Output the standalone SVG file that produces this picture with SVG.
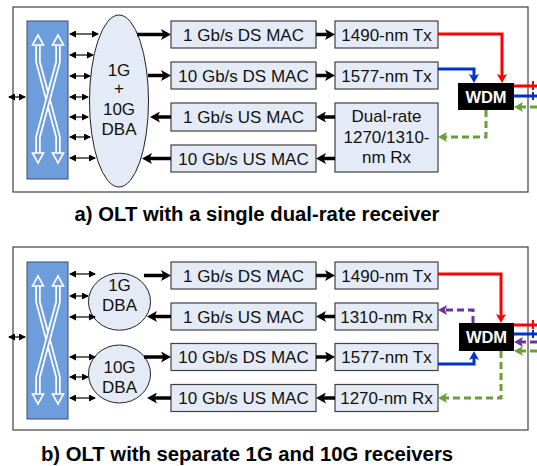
<svg xmlns="http://www.w3.org/2000/svg" width="537" height="466" viewBox="0 0 537 466">
<defs>
<style>
.frame{fill:#fff;stroke:#404040;stroke-width:1.2}
.sw{fill:#6E9DDC;stroke:#334e78;stroke-width:1}
.box{fill:#E4EBF6;stroke:#404040;stroke-width:1.2}
.dba{fill:#E4EBF6;stroke:#222;stroke-width:1}
.t{font-family:"Liberation Sans",Arial,sans-serif;font-size:17px;fill:#111;text-anchor:middle}
.wdmt{font-family:"Liberation Sans",Arial,sans-serif;font-size:16.5px;font-weight:bold;fill:#fff;text-anchor:middle}
.cap{font-family:"Liberation Sans",Arial,sans-serif;font-size:20.3px;font-weight:bold;fill:#000;text-anchor:middle}
.thick{fill:none;stroke:#000;stroke-width:3.5;marker-end:url(#ah)}
.small{fill:none;stroke:#000;stroke-width:1.2;marker-start:url(#sa);marker-end:url(#sa)}
.red{fill:none;stroke:#FF0000;stroke-width:3}
.blue{fill:none;stroke:#0033CC;stroke-width:3}
.green{fill:none;stroke:#6A9E3A;stroke-width:3;stroke-dasharray:7,4}
.purple{fill:none;stroke:#7030A0;stroke-width:3;stroke-dasharray:7,4}
.xo{fill:none;stroke:#fff;stroke-width:5.5}
.xi{fill:none;stroke:#6E9DDC;stroke-width:2}
.xh{fill:#6E9DDC;stroke:#fff;stroke-width:1.6}
</style>
<marker id="ah" viewBox="0 0 10 11" refX="3" refY="5.5" markerWidth="10" markerHeight="11" markerUnits="userSpaceOnUse" orient="auto"><path d="M0,0 L10,5.5 L0,11 L2.5,5.5 z" fill="#000"/></marker>
<marker id="sa" viewBox="0 0 7 7" refX="6" refY="3.5" markerWidth="7" markerHeight="7" markerUnits="userSpaceOnUse" orient="auto-start-reverse"><path d="M0,0 L7,3.5 L0,7 z" fill="#000"/></marker>
<marker id="ar" viewBox="0 0 9 10" refX="3" refY="5" markerWidth="9" markerHeight="10" markerUnits="userSpaceOnUse" orient="auto"><path d="M0,0 L9,5 L0,10 L2,5 z" fill="#FF0000"/></marker>
<marker id="ab" viewBox="0 0 9 10" refX="3" refY="5" markerWidth="9" markerHeight="10" markerUnits="userSpaceOnUse" orient="auto"><path d="M0,0 L9,5 L0,10 L2,5 z" fill="#0033CC"/></marker>
<marker id="ag" viewBox="0 0 9 10" refX="3" refY="5" markerWidth="9" markerHeight="10" markerUnits="userSpaceOnUse" orient="auto"><path d="M0,0 L9,5 L0,10 L2,5 z" fill="#6A9E3A"/></marker>
<marker id="ap" viewBox="0 0 9 10" refX="3" refY="5" markerWidth="9" markerHeight="10" markerUnits="userSpaceOnUse" orient="auto"><path d="M0,0 L9,5 L0,10 L2,5 z" fill="#7030A0"/></marker>
</defs>

<rect class="frame" x="13" y="7" width="515" height="185"/>
<rect class="frame" x="13" y="247" width="515" height="183"/>

<g id="a-switch">
<rect class="sw" x="27" y="21" width="41" height="158"/>
<path class="xo" d="M38,44 V62 L58,137 V155"/>
<path class="xi" d="M38,44 V62 L58,137 V155"/>
<polygon class="xh" points="38,35 43.5,45 32.5,45"/>
<polygon class="xh" points="58,163 63.5,153 52.5,153"/>
<path class="xo" d="M58,44 V62 L38,137 V155"/>
<path class="xi" d="M58,44 V62 L38,137 V155"/>
<polygon class="xh" points="58,35 63.5,45 52.5,45"/>
<polygon class="xh" points="38,163 43.5,153 32.5,153"/>
</g>
<g id="a-dba">
<ellipse class="dba" cx="119" cy="101" rx="29.5" ry="86"/>
<text class="t" x="119" y="76">1G</text>
<text class="t" x="119" y="94">+</text>
<text class="t" x="119" y="115">10G</text>
<text class="t" x="119" y="135">DBA</text>
</g>
<g id="a-mac1"><rect class="box" x="171" y="21" width="145" height="27"/><text class="t" x="243.5" y="40.5">1 Gb/s DS MAC</text></g>
<g id="a-mac2"><rect class="box" x="171" y="62" width="145" height="27"/><text class="t" x="243.5" y="81.5">10 Gb/s DS MAC</text></g>
<g id="a-mac3"><rect class="box" x="171" y="103" width="145" height="28"/><text class="t" x="243.5" y="123">1 Gb/s US MAC</text></g>
<g id="a-mac4"><rect class="box" x="171" y="145" width="145" height="27"/><text class="t" x="243.5" y="164.5">10 Gb/s US MAC</text></g>
<g id="a-tx1"><rect class="box" x="335" y="21" width="103" height="27"/><text class="t" x="386.5" y="40.5">1490-nm Tx</text></g>
<g id="a-tx2"><rect class="box" x="335" y="62" width="103" height="27"/><text class="t" x="386.5" y="81.5">1577-nm Tx</text></g>
<g id="a-rx"><rect class="box" x="335" y="103" width="103" height="69"/>
<text class="t" x="386.5" y="122">Dual-rate</text>
<text class="t" x="386.5" y="143">1270/1310-</text>
<text class="t" x="386.5" y="163">nm Rx</text></g>
<g id="a-wdm"><rect x="458" y="83" width="56" height="27" fill="#000"/><text class="wdmt" x="486" y="102.5">WDM</text></g>

<g id="b-switch">
<rect class="sw" x="27" y="262" width="41" height="157"/>
<path class="xo" d="M38,285 V302 L58,377 V395"/>
<path class="xi" d="M38,285 V302 L58,377 V395"/>
<polygon class="xh" points="38,276 43.5,286 32.5,286"/>
<polygon class="xh" points="58,404 63.5,394 52.5,394"/>
<path class="xo" d="M58,285 V302 L38,377 V395"/>
<path class="xi" d="M58,285 V302 L38,377 V395"/>
<polygon class="xh" points="58,276 63.5,286 52.5,286"/>
<polygon class="xh" points="38,404 43.5,394 32.5,394"/>
</g>
<g id="b-dba1"><ellipse class="dba" cx="119.5" cy="301.7" rx="31" ry="28.5"/><text class="t" x="119.5" y="291">1G</text><text class="t" x="119.5" y="311">DBA</text></g>
<g id="b-dba10"><ellipse class="dba" cx="119.5" cy="374" rx="31" ry="29"/><text class="t" x="119.5" y="373">10G</text><text class="t" x="119.5" y="393">DBA</text></g>
<g id="b-mac1"><rect class="box" x="171" y="262" width="145" height="27"/><text class="t" x="243.5" y="281.5">1 Gb/s DS MAC</text></g>
<g id="b-mac2"><rect class="box" x="171" y="303" width="145" height="27"/><text class="t" x="243.5" y="322.5">1 Gb/s US MAC</text></g>
<g id="b-mac3"><rect class="box" x="171" y="343.5" width="145" height="27"/><text class="t" x="243.5" y="363">10 Gb/s DS MAC</text></g>
<g id="b-mac4"><rect class="box" x="171" y="384.5" width="145" height="27"/><text class="t" x="243.5" y="404">10 Gb/s US MAC</text></g>
<g id="b-tx1"><rect class="box" x="335" y="262" width="103" height="27"/><text class="t" x="386.5" y="281.5">1490-nm Tx</text></g>
<g id="b-rx1"><rect class="box" x="335" y="303" width="103" height="27"/><text class="t" x="386.5" y="322.5">1310-nm Rx</text></g>
<g id="b-tx2"><rect class="box" x="335" y="343.5" width="103" height="27"/><text class="t" x="386.5" y="363">1577-nm Tx</text></g>
<g id="b-rx2"><rect class="box" x="335" y="384.5" width="103" height="27"/><text class="t" x="386.5" y="404">1270-nm Rx</text></g>
<g id="b-wdm"><rect x="459" y="323" width="55" height="28" fill="#000"/><text class="wdmt" x="486.5" y="343">WDM</text></g>

<g id="connectors">
<path class="small" d="M9,97 H25"/>
<path class="small" d="M70,34 H98"/>
<path class="small" d="M70,55 H93"/>
<path class="small" d="M70,76 H90"/>
<path class="small" d="M70,97 H88"/>
<path class="small" d="M70,117 H88"/>
<path class="small" d="M70,137 H90"/>
<path class="small" d="M70,158 H95"/>
<path class="thick" d="M137,34.5 H164"/>
<path class="thick" d="M148,75.5 H164"/>
<path class="thick" d="M171,117 H157"/>
<path class="thick" d="M171,158.5 H149"/>
<path class="thick" d="M316,34.5 H328"/>
<path class="thick" d="M316,75.5 H328"/>
<path class="thick" d="M335,117 H323"/>
<path class="thick" d="M335,158.5 H323"/>
<path class="red" d="M438,34 H502 V77" marker-end="url(#ar)"/>
<path class="blue" d="M438,69 H474 V77" marker-end="url(#ab)"/>
<path class="red" d="M514,86 H537"/>
<path class="blue" d="M514,96 H537"/>
<path d="M533,81 V90" stroke="#FF0000" stroke-width="2"/>
<path d="M533,92 V100" stroke="#0033CC" stroke-width="2"/>
<path class="green" d="M537,107 H520" marker-end="url(#ag)"/>
<path class="green" d="M486,110 V137 H444" marker-end="url(#ag)"/>
<path class="small" d="M9,337 H25"/>
<path class="small" d="M70,274 H95"/>
<path class="small" d="M70,296 H88"/>
<path class="small" d="M70,317 H95"/>
<path class="small" d="M70,357 H95"/>
<path class="small" d="M70,377 H88"/>
<path class="small" d="M70,398 H95"/>
<path class="thick" d="M144,275.5 H164"/>
<path class="thick" d="M171,316.5 H154"/>
<path class="thick" d="M144,357 H164"/>
<path class="thick" d="M171,398 H154"/>
<path class="thick" d="M316,275.5 H328"/>
<path class="thick" d="M335,316.5 H323"/>
<path class="thick" d="M316,357 H328"/>
<path class="thick" d="M335,398 H323"/>
<path class="red" d="M438,274 H501 V317" marker-end="url(#ar)"/>
<path class="purple" d="M473,323 V310 H444" marker-end="url(#ap)"/>
<path class="blue" d="M438,364 H474 V357" marker-end="url(#ab)"/>
<path class="green" d="M501,351 V398 H444" marker-end="url(#ag)"/>
<path class="red" d="M514,325 H537"/>
<path class="blue" d="M514,334 H537"/>
<path d="M533,320 V329" stroke="#FF0000" stroke-width="2"/>
<path d="M533,330 V338" stroke="#0033CC" stroke-width="2"/>
<path class="purple" d="M537,342 H520" marker-end="url(#ap)"/>
<path class="green" d="M537,351 H520" marker-end="url(#ag)"/>
</g>

<text class="cap" x="257" y="221">a) OLT with a single dual-rate receiver</text>
<text class="cap" x="247" y="461">b) OLT with separate 1G and 10G receivers</text>
</svg>
